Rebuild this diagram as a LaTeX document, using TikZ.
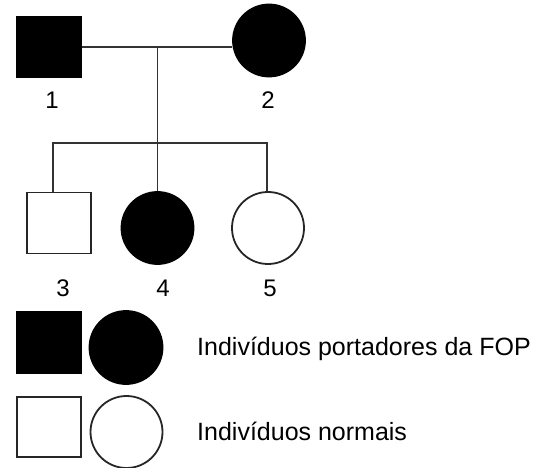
\documentclass[tikz,border=0pt]{standalone}
\usepackage{fontspec}
\setmainfont{Liberation Sans}
\begin{document}
\begin{tikzpicture}[x=1pt,y=1pt,
  male/.style={draw=black!85,line width=1.8pt,minimum width=64pt,minimum height=61pt,inner sep=0pt},
  female/.style={circle,draw=black!85,line width=1.8pt,minimum size=72pt,inner sep=0pt},
  affected/.style={fill=black,draw=black},
  num/.style={anchor=base,inner sep=0pt,font=\fontsize{24}{28}\selectfont},
  legtext/.style={anchor=base west,inner sep=0pt,font=\fontsize{25}{30}\selectfont},
  link/.style={draw=black!80,line width=1.8pt}]
\useasboundingbox (0,0) rectangle (552,-468);
\node [male,affected] (n1) at (49,-47) {};
\node [female,affected] (n2) at (269,-40.5) {};
\node [male] (n3) at (58.7,-223) {};
\node [female,affected] (n4) at (157.5,-228) {};
\node [female] (n5) at (268,-228) {};
\node [num] (l1) at (52,-109) {1};
\node [num] (l2) at (268,-109) {2};
\node [num] (l3) at (63,-296) {3};
\node [num] (l4) at (163,-296) {4};
\node [num] (l5) at (270,-296) {5};
\coordinate (mid) at (157.5,-47);
\coordinate (sibL) at (53.3,-143.3);
\coordinate (sibR) at (267.3,-143.3);
\draw [link] (n1.east) -- (n1.east -| n2.west);
\draw [link] (mid) -- (n4.north);
\draw [link] (sibL |- n3.north) -- (sibL) -- (sibR) -- (sibR |- n5.north);
\node [male,affected,minimum width=65pt] (la) at (49,-342.5) {};
\node [female,affected,minimum size=73pt] (lb) at (126,-347.5) {};
\node [male,minimum height=60pt] (lc) at (49,-427) {};
\node [female] (ld) at (126.5,-432) {};
\node [legtext] (ta) at (197,-355) {Indivíduos portadores da FOP};
\node [legtext] (tb) at (197,-440) {Indivíduos normais};
\end{tikzpicture}
\end{document}
